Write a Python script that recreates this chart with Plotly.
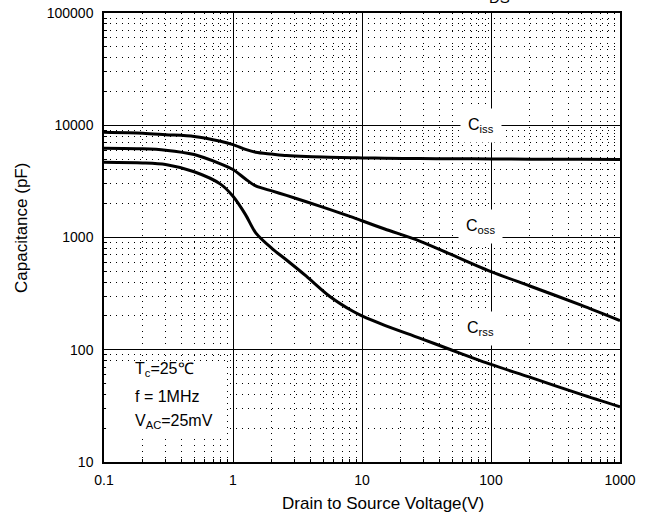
import plotly.graph_objects as go

V = [0.1, 0.2, 0.3, 0.5, 0.8, 1, 1.25, 1.5, 2, 2.6, 3.7, 5.6, 8.5, 10, 15, 28, 50, 100, 200, 500, 1000]
Ciss = [8660, 8500, 8250, 7950, 7200, 6730, 6100, 5750, 5540, 5370, 5260, 5200, 5140, 5120, 5090, 5050, 5030, 5010, 4990, 4970, 4950]
Coss = [6240, 6170, 6000, 5480, 4530, 4030, 3320, 2880, 2600, 2370, 2080, 1780, 1510, 1410, 1190, 930, 700, 497, 370, 250, 182]
Crss = [4680, 4620, 4470, 3850, 2990, 2330, 1600, 1100, 800, 630, 452, 300, 220, 200, 165, 127, 99, 74, 57, 40, 31]

x_ticks = [0.1, 1, 10, 100, 1000]
x_ticklabels = ["0.1", "1", "10", "100", "1000"]
y_ticks = [10, 100, 1000, 10000, 100000]
y_ticklabels = ["10", "100", "1000", "10000", "100000"]

FONT = "Liberation Sans, Arial, sans-serif"

fig = go.Figure()
for ys in (Ciss, Coss, Crss):
    fig.add_trace(go.Scatter(x=V, y=ys, mode="lines",
                             line=dict(color="black", width=3, shape="spline", smoothing=0.8),
                             showlegend=False, hoverinfo="skip"))

axis_common = dict(
    type="log", showline=True, linecolor="black", linewidth=1.5, mirror=True,
    showgrid=True, gridcolor="black", gridwidth=1,
    ticks="inside", ticklen=4, tickcolor="black", automargin=False,
    tickfont=dict(family=FONT, size=14, color="black"),
    zeroline=False,
    minor=dict(showgrid=True, gridcolor="black", gridwidth=1, griddash="1px,5px",
               ticks="inside", ticklen=3, tickcolor="black", dtick="D1"),
)

fig.update_xaxes(**axis_common, range=[-1, 3], tickvals=x_ticks, ticktext=x_ticklabels,
                 ticklabelstandoff=4)
fig.update_yaxes(**axis_common, range=[1, 5], tickvals=y_ticks, ticktext=y_ticklabels,
                 ticklabelstandoff=6)

# axis titles
fig.add_annotation(x=0.541, y=-0.0935, xref="paper", yref="paper", xanchor="center", yanchor="middle",
                   text="Drain to Source Voltage(V)", showarrow=False,
                   font=dict(family=FONT, size=17, color="black"))
fig.add_annotation(x=-0.161, y=0.521, xref="paper", yref="paper", xanchor="center",
                   yanchor="middle", text="Capacitance (pF)", showarrow=False, textangle=-90,
                   font=dict(family=FONT, size=17, color="black"))

# White box behind the conditions text
fig.add_shape(type="rect", xref="x domain", yref="y domain", x0=0.004, x1=0.238, y0=0.06, y1=0.225,
              fillcolor="white", line=dict(width=0), layer="above")

lab_font = dict(family=FONT, size=16, color="black")
fig.add_annotation(x=0.057, y=0.205, xref="x domain", yref="y domain", xanchor="left", yanchor="middle",
                   text="T<sub>c</sub>=25℃", showarrow=False, font=lab_font)
fig.add_annotation(x=0.057, y=0.145, xref="x domain", yref="y domain", xanchor="left", yanchor="middle",
                   text="f = 1MHz", showarrow=False, font=lab_font)
fig.add_annotation(x=0.057, y=0.09, xref="x domain", yref="y domain", xanchor="left", yanchor="middle",
                   text="V<sub>AC</sub>=25mV", showarrow=False, font=lab_font)

for txt, yv in (("C<sub>iss</sub>", 4.0), ("C<sub>oss</sub>", 3.1), ("C<sub>rss</sub>", 2.19)):
    fig.add_annotation(x=1.92, y=yv, xref="x", yref="y", text=txt, showarrow=False,
                       font=lab_font, bgcolor="white", borderpad=7)

fig.add_annotation(x=0.79, y=1.0, xref="paper", yref="paper", yanchor="bottom", text="DS",
                   showarrow=False, yshift=5, font=dict(family=FONT, size=15, color="black"))

fig.update_layout(width=646, height=517, margin=dict(l=104, r=26, t=13, b=55),
                  plot_bgcolor="white", paper_bgcolor="white",
                  font=dict(family=FONT, color="black"))

fig.write_html("out.html")
